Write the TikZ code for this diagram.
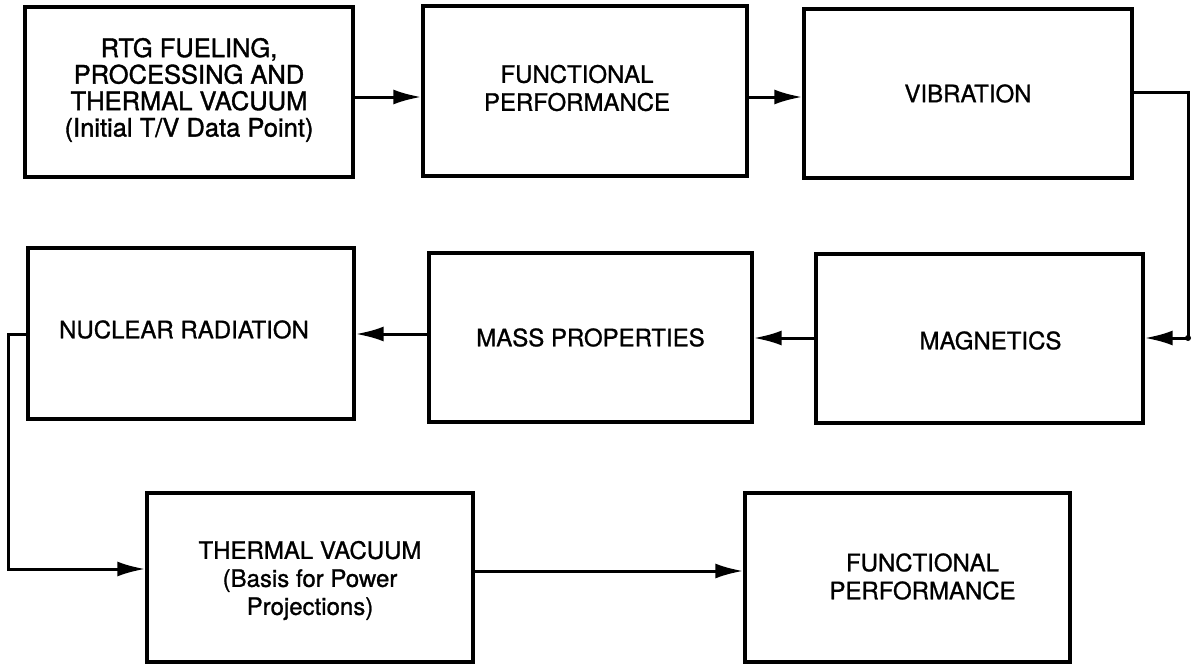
\documentclass[tikz,border=0pt]{standalone}
\usepackage{fontspec}
\setmainfont{TeX Gyre Heros}
\usetikzlibrary{arrows.meta}
\begin{document}
\begin{tikzpicture}[x=1pt,y=-1pt,
  box/.style={draw=black, line width=3.4pt, rectangle, inner sep=0pt, fill=none},
  lbl/.style={align=center, inner sep=0pt, font=\fontsize{24}{28}\selectfont\addfontfeatures{FakeBold=1}},
  biglbl/.style={align=center, inner sep=0pt, font=\fontsize{25.5}{26.5}\selectfont\addfontfeatures{FakeBold=1.4}},
  arr/.style={line width=3pt, -{Latex[length=28pt,width=15pt]}}]
\useasboundingbox (0,0) rectangle (1197,664);
% boxes
\node[box, minimum width=328pt, minimum height=170pt] (b1) at (189,92) {};
\node[box, minimum width=324pt, minimum height=170pt] (b2) at (585,91) {};
\node[box, minimum width=328pt, minimum height=169pt] (b3) at (968,93.5) {};
\node[box, minimum width=326pt, minimum height=171pt] (b4) at (191,333.5) {};
\node[box, minimum width=323pt, minimum height=169pt] (b5) at (590.5,337.5) {};
\node[box, minimum width=327pt, minimum height=169pt] (b6) at (979.5,338.5) {};
\node[box, minimum width=326pt, minimum height=169pt] (b7) at (310,577.5) {};
\node[box, minimum width=325pt, minimum height=169pt] (b8) at (907.5,577.5) {};
% labels
\node[biglbl] (t1) at ([yshift=2pt]b1.center) {RTG FUELING,\\PROCESSING AND\\THERMAL VACUUM\\(Initial T/V Data Point)};
\node[lbl] (t2) at ([xshift=-8pt,yshift=3pt]b2.center) {FUNCTIONAL\\PERFORMANCE};
\node[lbl] (t3) at (b3.center) {VIBRATION};
\node[lbl] (t4) at ([xshift=-7pt,yshift=4pt]b4.center) {NUCLEAR RADIATION};
\node[lbl] (t5) at (b5.center) {MASS PROPERTIES};
\node[lbl] (t6) at ([xshift=11pt,yshift=-2pt]b6.center) {MAGNETICS};
\node[lbl] (t7) at ([yshift=-3pt]b7.center) {THERMAL VACUUM\\(Basis for Power\\Projections)};
\node[lbl] (t8) at ([xshift=15pt,yshift=1pt]b8.center) {FUNCTIONAL\\PERFORMANCE};
% routing points
\coordinate (c3) at (1188,92);
\coordinate (c6) at (1188,338);
\coordinate (c4) at (8,334);
\coordinate (c7) at (8,569);
% connectors
\draw[arr] ([yshift=-5pt]b1.east) -- ([yshift=-6pt]b2.west);
\draw[arr] ([yshift=-6pt]b2.east) -- ([yshift=-3.5pt]b3.west);
\draw[arr] (b3.east |- c3) -- (c3) -- (c6) -- (b6.east |- c6);
\fill (c6) circle (3pt);
\draw[arr] (b6.west |- c6) -- (b5.east |- c6);
\draw[arr] (b5.west |- c4) -- (b4.east |- c4);
\draw[arr] (b4.west |- c4) -- (c4) -- (c7) -- (b7.west |- c7);
\draw[arr] ([yshift=6.5pt]b7.east) -- ([yshift=6.5pt]b8.west);
\end{tikzpicture}
\end{document}
